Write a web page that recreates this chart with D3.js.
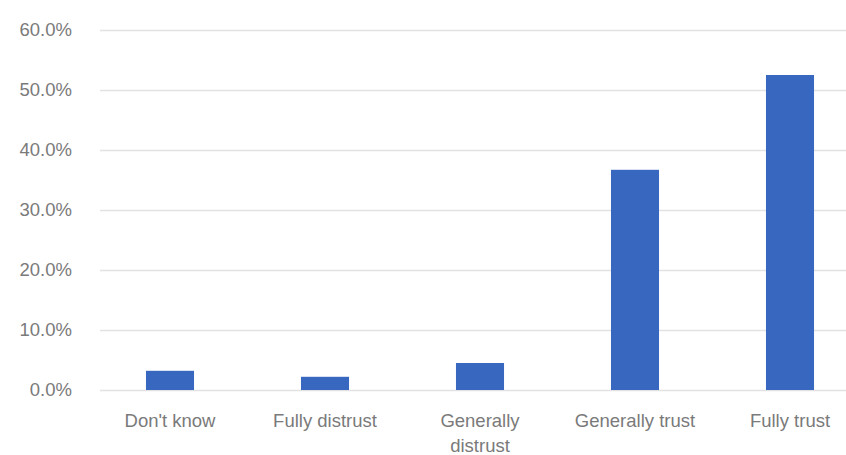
<!DOCTYPE html>
<html><head><meta charset="utf-8">
<script src="https://cdn.jsdelivr.net/npm/d3@7"></script>
<style>body{margin:0;background:#fff;}svg{display:block;}</style>
</head><body>
<svg id="chart" width="846" height="455"></svg>
<script>
const categories = ["Don't know", "Fully distrust", "Generally distrust", "Generally trust", "Fully trust"];
const values = [3.2, 2.2, 4.5, 36.7, 52.5];
const yTicks = [0, 10, 20, 30, 40, 50, 60];

const svg = d3.select("#chart");
const gridLeft = 100, gridRight = 846;
const x = d3.scaleBand().domain(categories).range([92.5, 867.5]).paddingInner(0.69).paddingOuter(0.345);
const y = d3.scaleLinear().domain([0, 60]).range([390, 30]);
const font = "Liberation Sans, Arial, sans-serif";

// gridlines
svg.append("g").selectAll("line").data(yTicks).join("line")
  .attr("x1", gridLeft).attr("x2", gridRight)
  .attr("y1", d => y(d) + 0.5).attr("y2", d => y(d) + 0.5)
  .attr("stroke", "#e2e2e2").attr("stroke-width", 1.5);

// y axis labels
const yAxis = d3.axisLeft(y).tickValues(yTicks).tickSize(0).tickPadding(0)
  .tickFormat(d => d3.format(".1f")(d) + "%");
const gy = svg.append("g").attr("transform", "translate(72,0)").call(yAxis);
gy.select(".domain").remove();
gy.selectAll("text").attr("fill", "#7a7a7a").attr("dy", "0.3em")
  .style("font-family", font).style("font-size", "18.5px");

// bars
svg.append("g").selectAll("rect").data(categories).join("rect")
  .attr("x", d => x(d))
  .attr("width", x.bandwidth())
  .attr("y", (d, i) => y(values[i]))
  .attr("height", (d, i) => y(0) - y(values[i]))
  .attr("fill", "#3867c0");

// x axis
const xAxis = d3.axisBottom(x).tickSize(0).tickPadding(0);
const gx = svg.append("g").attr("transform", `translate(0,${y(0)})`).call(xAxis);
gx.select(".domain").remove();
gx.selectAll("text").remove();
gx.selectAll(".tick").each(function(d) {
  const t = d3.select(this).append("text")
    .attr("fill", "#7a7a7a")
    .attr("text-anchor", "middle")
    .style("font-family", font)
    .style("font-size", "18.5px");
  const lines = d === "Generally distrust" ? ["Generally", "distrust"] : [d];
  lines.forEach((ln, i) => t.append("tspan").attr("x", 0).attr("y", 37 + i * 25).text(ln));
});
</script>
</body></html>
